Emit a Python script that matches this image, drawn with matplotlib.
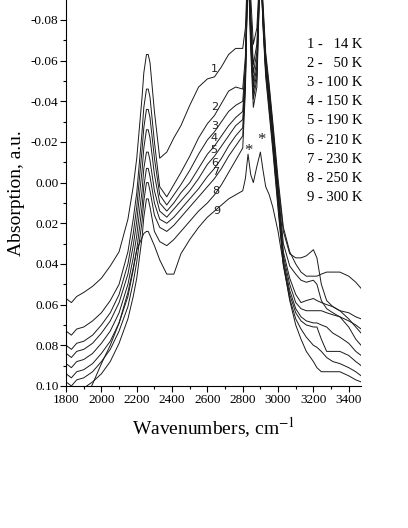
import matplotlib
matplotlib.use("Agg")
import matplotlib.pyplot as plt
from matplotlib.ticker import MultipleLocator, FormatStrFormatter

plt.rcParams['font.family'] = ['Liberation Serif', 'DejaVu Serif']
plt.rcParams['mathtext.fontset'] = 'stix'
plt.rcParams['axes.unicode_minus'] = False

# wavenumber grid (cm-1)
wn = [1800, 1830, 1860, 1900, 1950, 2000, 2050, 2100, 2150, 2180,
      2200, 2230, 2240, 2255, 2265, 2275, 2300, 2330, 2370, 2410,
      2450, 2500, 2550, 2600, 2640, 2680, 2720, 2760, 2800, 2815,
      2830, 2845, 2860, 2880, 2900, 2915, 2930, 2950, 2970, 3000,
      3030, 3066, 3100, 3130, 3160, 3200, 3220, 3245, 3275, 3310,
      3350, 3400, 3440, 3470]

abs_14K = [0.057, 0.059, 0.056, 0.054, 0.051, 0.047, 0.041, 0.034, 0.018, 0.002,
           -0.012, -0.042, -0.054, -0.063, -0.063, -0.059, -0.035, -0.012, -0.015, -0.022,
           -0.028, -0.038, -0.047, -0.051, -0.052, -0.057, -0.063, -0.066, -0.066, -0.076,
           -0.11, -0.092, -0.068, -0.076, -0.11, -0.088, -0.064, -0.048, -0.030, -0.002,
           0.022, 0.034, 0.040, 0.044, 0.046, 0.046, 0.046, 0.045, 0.044, 0.044,
           0.044, 0.046, 0.049, 0.052]
abs_50K = [0.073, 0.075, 0.072, 0.071, 0.068, 0.064, 0.058, 0.050, 0.034, 0.018,
           0.005, -0.025, -0.037, -0.046, -0.046, -0.042, -0.020, 0.002, 0.007, 0.001,
           -0.005, -0.013, -0.022, -0.029, -0.033, -0.039, -0.045, -0.047, -0.046, -0.062,
           -0.11, -0.085, -0.058, -0.068, -0.11, -0.085, -0.062, -0.046, -0.028, 0.001,
           0.024, 0.035, 0.037, 0.037, 0.036, 0.033, 0.037, 0.050, 0.058, 0.061,
           0.063, 0.064, 0.066, 0.067]
abs_100K = [0.080, 0.082, 0.079, 0.078, 0.075, 0.070, 0.064, 0.055, 0.040, 0.025,
            0.012, -0.016, -0.027, -0.036, -0.036, -0.032, -0.012, 0.006, 0.011, 0.006,
            0.001, -0.006, -0.014, -0.021, -0.025, -0.030, -0.035, -0.038, -0.040, -0.058,
            -0.11, -0.080, -0.054, -0.064, -0.11, -0.083, -0.060, -0.044, -0.026, 0.003,
            0.030, 0.041, 0.045, 0.048, 0.049, 0.048, 0.050, 0.058, 0.062, 0.064,
            0.066, 0.068, 0.070, 0.072]
abs_150K = [0.084, 0.086, 0.083, 0.082, 0.079, 0.074, 0.068, 0.059, 0.045, 0.031,
            0.019, -0.006, -0.017, -0.026, -0.026, -0.022, -0.004, 0.010, 0.014, 0.010,
            0.005, 0.000, -0.007, -0.014, -0.018, -0.023, -0.028, -0.032, -0.035, -0.055,
            -0.11, -0.078, -0.050, -0.060, -0.11, -0.082, -0.058, -0.042, -0.024, 0.005,
            0.034, 0.047, 0.055, 0.059, 0.058, 0.057, 0.058, 0.059, 0.060, 0.061,
            0.063, 0.067, 0.071, 0.074]
abs_190K = [0.089, 0.091, 0.088, 0.087, 0.084, 0.079, 0.073, 0.064, 0.050, 0.037,
            0.026, 0.004, -0.007, -0.015, -0.015, -0.011, 0.004, 0.014, 0.017, 0.013,
            0.009, 0.004, -0.002, -0.009, -0.013, -0.018, -0.023, -0.028, -0.031, -0.052,
            -0.11, -0.075, -0.047, -0.057, -0.11, -0.080, -0.056, -0.040, -0.022, 0.007,
            0.036, 0.050, 0.059, 0.062, 0.063, 0.063, 0.063, 0.063, 0.064, 0.065,
            0.066, 0.071, 0.077, 0.080]
abs_210K = [0.094, 0.096, 0.093, 0.092, 0.089, 0.084, 0.078, 0.069, 0.056, 0.043,
            0.033, 0.012, 0.002, -0.007, -0.007, -0.003, 0.010, 0.018, 0.020, 0.017,
            0.013, 0.008, 0.003, -0.003, -0.007, -0.012, -0.018, -0.023, -0.027, -0.050,
            -0.11, -0.072, -0.044, -0.054, -0.11, -0.079, -0.055, -0.038, -0.020, 0.009,
            0.038, 0.053, 0.062, 0.066, 0.068, 0.069, 0.069, 0.070, 0.071, 0.074,
            0.076, 0.079, 0.083, 0.085]
abs_230K = [0.098, 0.100, 0.097, 0.096, 0.093, 0.088, 0.082, 0.073, 0.061, 0.049,
            0.039, 0.019, 0.009, 0.000, 0.000, 0.004, 0.016, 0.022, 0.024, 0.021,
            0.017, 0.012, 0.007, 0.002, -0.002, -0.007, -0.013, -0.018, -0.023, -0.048,
            -0.11, -0.070, -0.041, -0.051, -0.11, -0.078, -0.054, -0.036, -0.018, 0.011,
            0.040, 0.055, 0.064, 0.068, 0.070, 0.071, 0.071, 0.077, 0.083, 0.083,
            0.083, 0.085, 0.088, 0.090]
abs_250K = [0.103, 0.105, 0.102, 0.101, 0.098, 0.094, 0.088, 0.079, 0.067, 0.056,
            0.047, 0.027, 0.017, 0.008, 0.008, 0.012, 0.024, 0.029, 0.031, 0.028,
            0.024, 0.019, 0.014, 0.010, 0.006, 0.001, -0.005, -0.011, -0.017, -0.045,
            -0.11, -0.065, -0.037, -0.047, -0.11, -0.076, -0.052, -0.034, -0.016, 0.013,
            0.041, 0.057, 0.067, 0.072, 0.076, 0.080, 0.081, 0.083, 0.086, 0.088,
            0.089, 0.091, 0.093, 0.095]
abs_300K = [0.112, 0.114, 0.111, 0.108, 0.099, 0.089, 0.080, 0.069, 0.054, 0.042,
            0.033, 0.027, 0.025, 0.024, 0.024, 0.026, 0.031, 0.038, 0.045, 0.045,
            0.035, 0.028, 0.022, 0.017, 0.014, 0.011, 0.008, 0.006, 0.004, -0.002,
            -0.014, -0.004, 0.000, -0.008, -0.015, -0.006, 0.002, 0.006, 0.012, 0.024,
            0.040, 0.058, 0.070, 0.077, 0.083, 0.088, 0.091, 0.093, 0.093, 0.093,
            0.093, 0.095, 0.097, 0.098]

spectra = [abs_14K, abs_50K, abs_100K, abs_150K, abs_190K,
           abs_210K, abs_230K, abs_250K, abs_300K]
temps = [14, 50, 100, 150, 190, 210, 230, 250, 300]

# curve number labels (wavenumber, absorption)
label_x = [2640, 2640, 2640, 2635, 2635, 2640, 2645, 2645, 2655]
label_y = [-0.056, -0.037, -0.028, -0.022, -0.016, -0.0098, -0.0054, 0.0039, 0.0141]
star_x = [2834, 2908]
star_y = [-0.0155, -0.021]

fig = plt.figure(figsize=(4.08, 5.28), dpi=100)
ax = fig.add_axes([0.162, 0.269, 0.723, 0.731])

for spec in spectra:
    ax.plot(wn, spec, color='#1a1a1a', lw=0.7)

for i in range(len(spectra)):
    ax.text(label_x[i], label_y[i], str(i + 1), fontsize=8,
            family=['DejaVu Sans'], ha='center', va='center', color='#222222')
for sx, sy in zip(star_x, star_y):
    ax.text(sx, sy, '*', fontsize=12, ha='center', va='center', color='#222222')

# temperature list
for i, t in enumerate(temps):
    txt = '{} - {} K'.format(i + 1, t)
    if t < 100:
        txt = '{} -   {} K'.format(i + 1, t)
    fig.text(307 / 408, 1 - (44 + i * 19.2) / 528, txt, fontsize=10.5,
             ha='left', va='center')

ax.set_xlim(1800, 3470)
ax.set_ylim(0.10, -0.0898)
ax.xaxis.set_major_locator(MultipleLocator(200))
ax.xaxis.set_minor_locator(MultipleLocator(100))
ax.yaxis.set_major_locator(MultipleLocator(0.02))
ax.yaxis.set_minor_locator(MultipleLocator(0.01))
ax.yaxis.set_major_formatter(FormatStrFormatter('%.2f'))
ax.tick_params(which='major', direction='out', length=4, width=0.8, labelsize=9.5, pad=1.5)
ax.tick_params(which='minor', direction='out', length=2.5, width=0.8)
for side in ['top', 'right']:
    ax.spines[side].set_visible(False)
for side in ['left', 'bottom']:
    ax.spines[side].set_linewidth(0.8)

ax.set_xlabel(r'Wavenumbers, cm$^{-1}$', fontsize=14, labelpad=7)
ax.set_ylabel('Absorption, a.u.', fontsize=14, labelpad=4)

fig.savefig('out.png', dpi=100)
